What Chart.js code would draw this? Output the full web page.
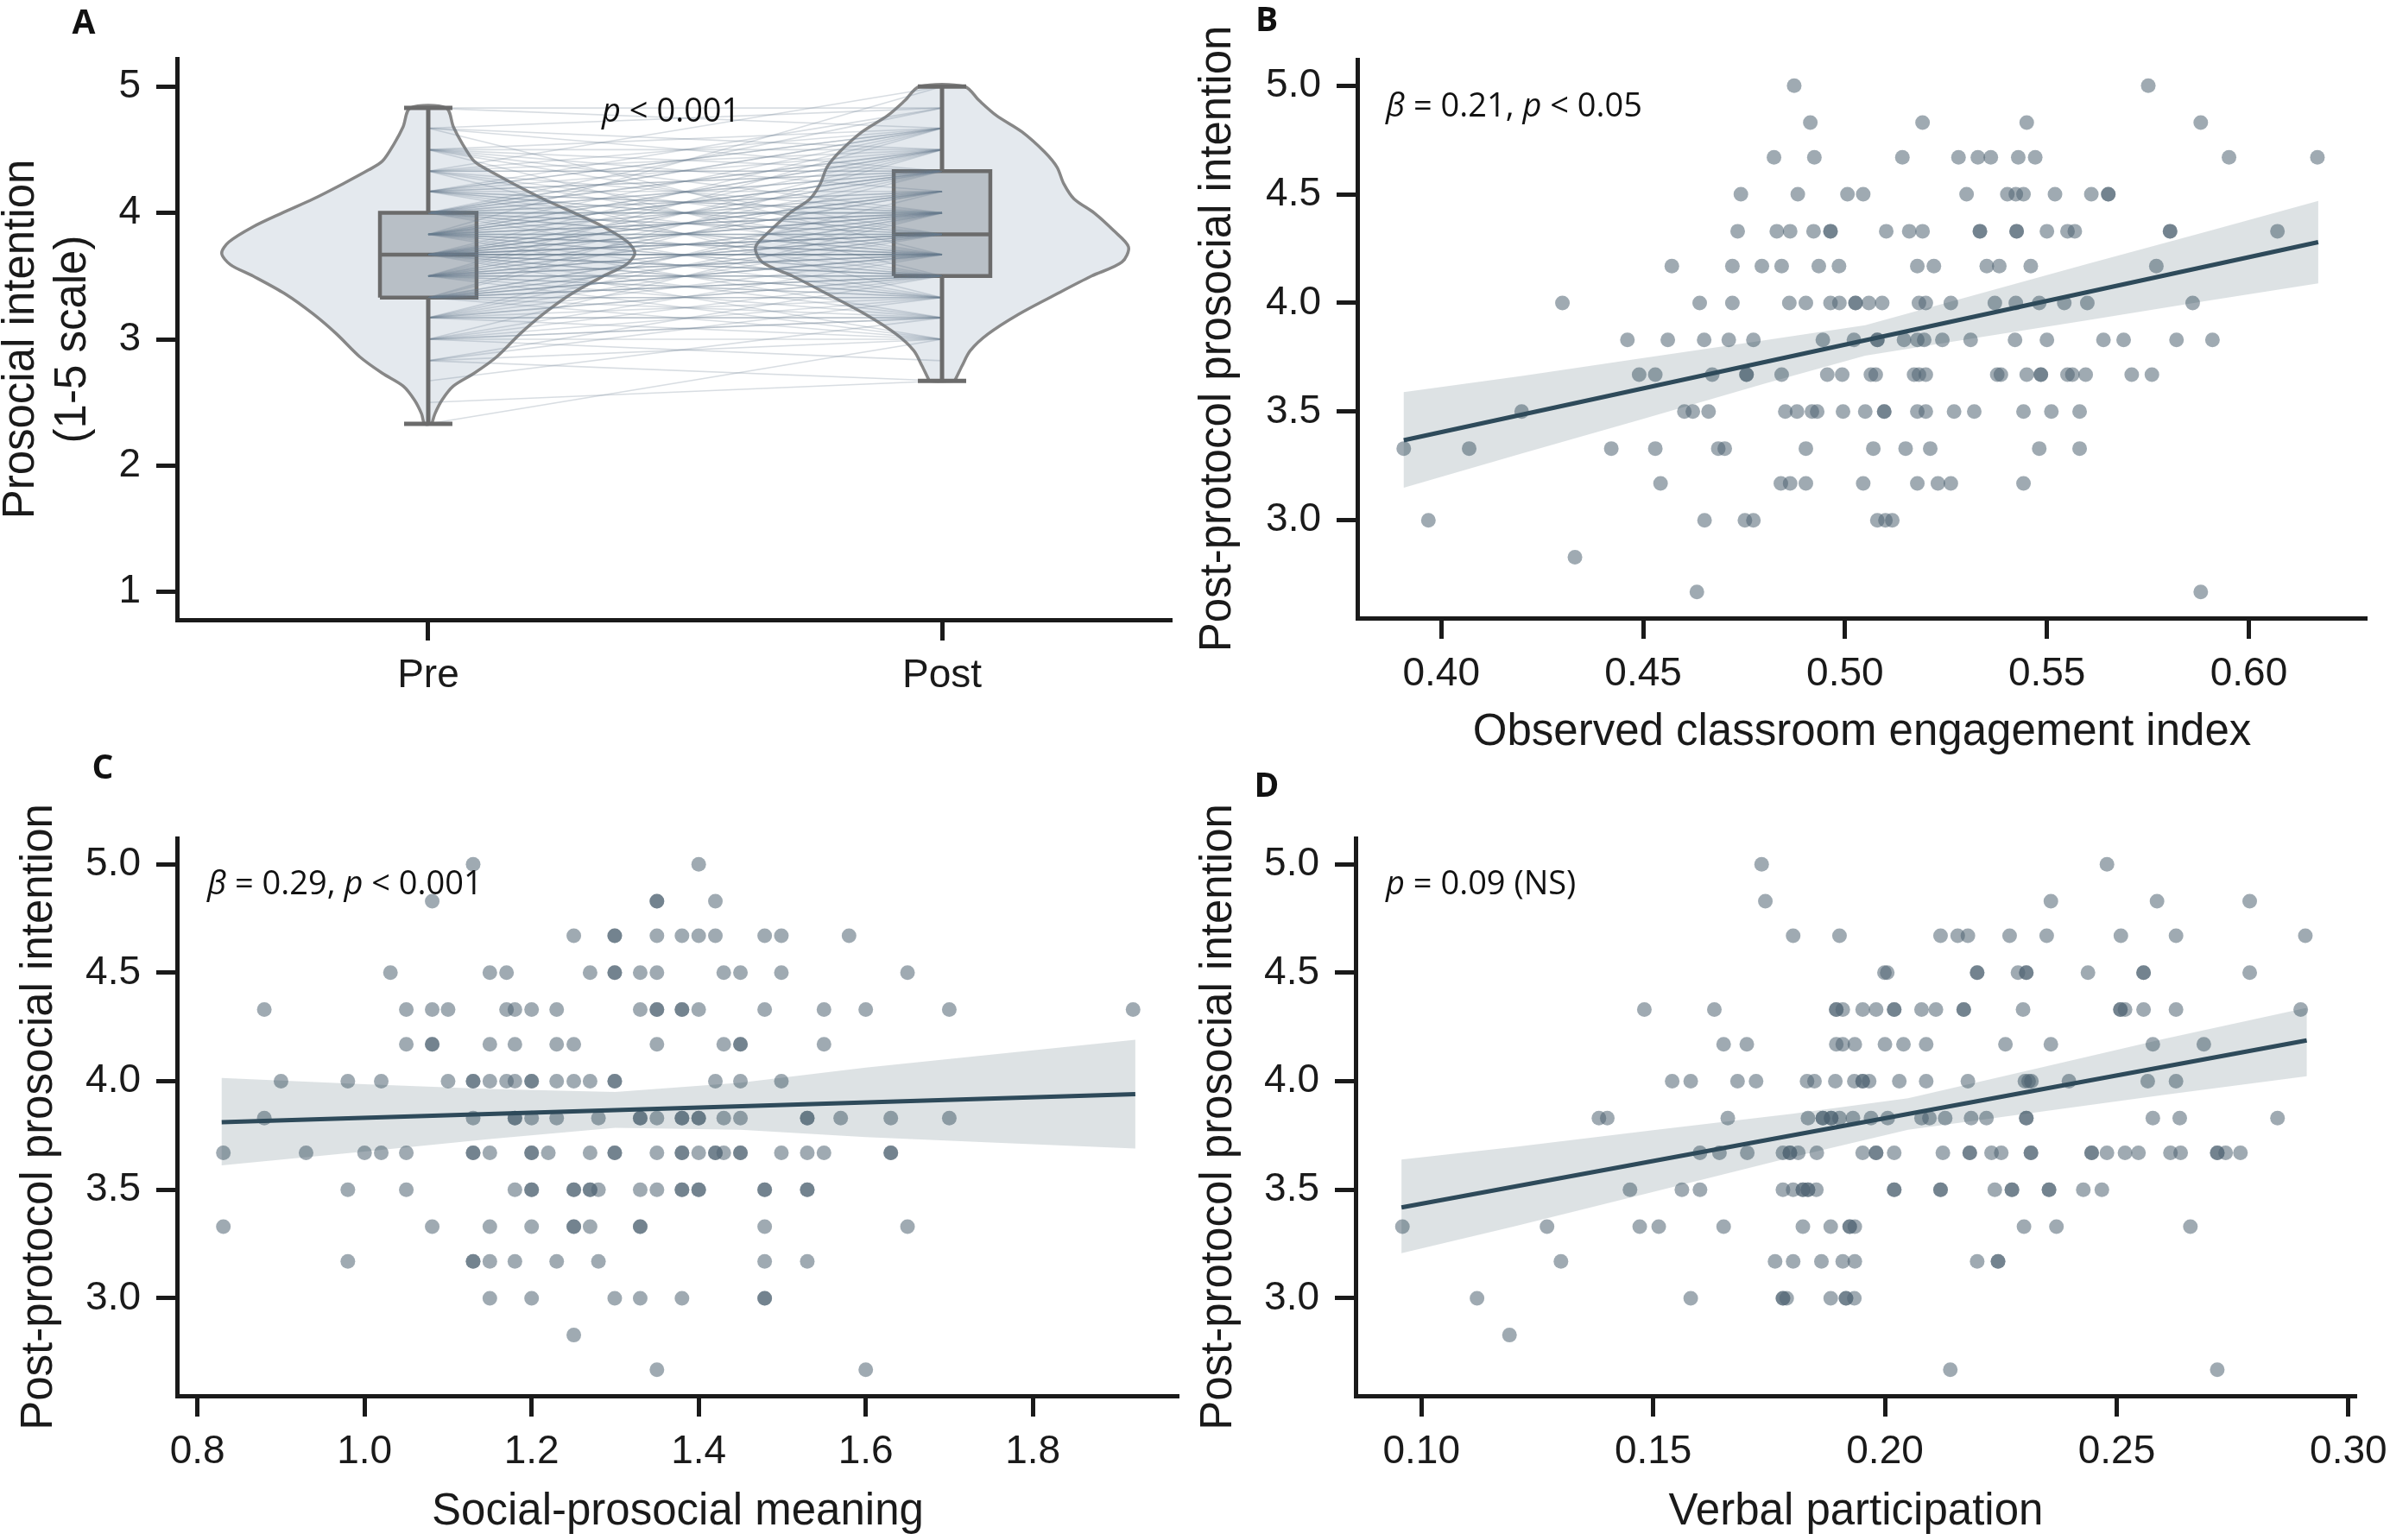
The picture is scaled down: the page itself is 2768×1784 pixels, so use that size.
<!DOCTYPE html>
<html>
<head>
<meta charset="utf-8">
<script src="https://cdn.jsdelivr.net/npm/chart.js@4.4.1/dist/chart.umd.min.js"></script>
<style>
html, body { margin: 0; padding: 0; background: #ffffff; width: 2768px; height: 1784px; overflow: hidden; }
canvas { position: absolute; }
</style>
</head>
<body>
<canvas id="cA" width="1384" height="892" style="left:0px;top:0px;width:1384px;height:892px"></canvas>
<canvas id="cB" width="1384" height="892" style="left:1384px;top:0px;width:1384px;height:892px"></canvas>
<canvas id="cC" width="1384" height="934" style="left:0px;top:850px;width:1384px;height:934px"></canvas>
<canvas id="cD" width="1384" height="934" style="left:1384px;top:850px;width:1384px;height:934px"></canvas>
<script>
// ================= DATA =================
// ---- Panel A: pre/post prosocial intention ----
const conditionLabels = ['Pre', 'Post'];
const prosocialTicks = [1, 2, 3, 4, 5];
const preLevels = [2.33, 2.5, 2.67, 2.83, 3.0, 3.17, 3.33, 3.5, 3.67, 3.83, 4.0, 4.17, 4.33, 4.5, 4.67, 4.83];
const postByPreLevel = [
  [3.0],
  [2.67],
  [3.17],
  [2.67, 3.33, 3.5, 3.0],
  [2.83, 3.0, 3.17, 3.33, 3.5, 3.17, 3.67, 4.0],
  [3.0, 3.17, 3.17, 3.33, 3.5, 3.5, 3.67, 3.83, 4.0, 4.17],
  [3.0, 3.17, 3.33, 3.33, 3.5, 3.5, 3.5, 3.67, 3.67, 3.67, 3.83, 3.83, 4.0, 4.0, 4.33, 4.5],
  [3.0, 3.17, 3.33, 3.33, 3.5, 3.5, 3.5, 3.67, 3.67, 3.67, 3.83, 3.83, 3.83, 4.0, 4.0, 4.17, 4.17, 4.33, 4.5, 4.67],
  [3.0, 3.17, 3.33, 3.33, 3.5, 3.5, 3.5, 3.67, 3.67, 3.67, 3.67, 3.83, 3.83, 3.83, 3.83, 4.0, 4.0, 4.0, 4.17, 4.17, 4.33, 4.33, 4.5, 4.67, 4.17, 3.67],
  [3.17, 3.33, 3.5, 3.5, 3.67, 3.67, 3.67, 3.83, 3.83, 3.83, 4.0, 4.0, 4.0, 4.17, 4.17, 4.33, 4.33, 4.33, 4.5, 4.5, 4.67, 5.0],
  [3.33, 3.5, 3.67, 3.67, 3.83, 3.83, 4.0, 4.0, 4.0, 4.17, 4.17, 4.33, 4.33, 4.5, 4.5, 4.67, 4.67, 4.83],
  [3.5, 3.67, 3.83, 3.83, 4.0, 4.0, 4.17, 4.33, 4.33, 4.5, 4.67, 4.67, 4.83],
  [3.33, 3.67, 3.83, 4.0, 4.33, 4.33, 4.5, 4.67, 5.0],
  [3.5, 3.83, 4.0, 4.17, 4.33, 4.5, 4.67],
  [3.67, 4.33, 4.5, 4.83],
  [4.67, 4.83]
];
// box stats: [min, q1, median, q3, max]
const preBoxStats  = [2.33, 3.33, 3.67, 4.0, 4.83];
const postBoxStats = [2.67, 3.5, 3.83, 4.33, 5.0];
// violin outline: value levels and half-width (x units, Pre=0 / Post=1)
const preViolinY = [2.33, 2.41, 2.52, 2.63, 2.73, 2.86, 3.04, 3.20, 3.36, 3.50, 3.59, 3.68, 3.77, 3.89, 4.00, 4.11, 4.23, 4.34, 4.41, 4.55, 4.68, 4.83];
const preViolinHalf = [0.007, 0.013, 0.027, 0.049, 0.089, 0.133, 0.178, 0.224, 0.279, 0.341, 0.385, 0.402, 0.388, 0.341, 0.284, 0.224, 0.166, 0.116, 0.089, 0.066, 0.049, 0.035];
const postViolinY = [2.67, 2.69, 2.79, 2.91, 3.04, 3.20, 3.36, 3.50, 3.61, 3.73, 3.86, 4.00, 4.11, 4.23, 4.36, 4.48, 4.64, 4.77, 4.89, 5.0];
const postViolinHalf = [0.024, 0.027, 0.039, 0.055, 0.089, 0.150, 0.224, 0.291, 0.350, 0.363, 0.334, 0.296, 0.257, 0.237, 0.224, 0.200, 0.156, 0.106, 0.072, 0.044];

// ---- Scatter panels: shared y ticks ----
const intentionTicks = [3.0, 3.5, 4.0, 4.5, 5.0];

// ---- Panel B: engagement index (x) grouped by post intention (y) ----
const engagementTicks = [0.40, 0.45, 0.50, 0.55, 0.60];
const engagementByIntention = [
  [5.00, [0.4874, 0.5751]],
  [4.83, [0.4914, 0.5192, 0.5450, 0.5881]],
  [4.67, [0.4824, 0.4924, 0.5142, 0.5281, 0.5329, 0.5361, 0.5429, 0.5471, 0.5951, 0.6170]],
  [4.50, [0.4742, 0.4883, 0.5006, 0.5045, 0.5301, 0.5402, 0.5423, 0.5442, 0.5520, 0.5610, 0.5652, 0.5652]],
  [4.33, [0.4734, 0.4831, 0.4864, 0.4922, 0.4964, 0.4964, 0.5102, 0.5159, 0.5192, 0.5334, 0.5334, 0.5425, 0.5425, 0.5500, 0.5551, 0.5569, 0.5805, 0.5805, 0.6071]],
  [4.17, [0.4571, 0.4721, 0.4794, 0.4843, 0.4935, 0.4985, 0.5179, 0.5220, 0.5351, 0.5382, 0.5460, 0.5771]],
  [4.00, [0.4300, 0.4640, 0.4721, 0.4862, 0.4903, 0.4964, 0.4986, 0.5026, 0.5026, 0.5059, 0.5092, 0.5183, 0.5200, 0.5262, 0.5371, 0.5423, 0.5481, 0.5543, 0.5600, 0.5861]],
  [3.83, [0.4461, 0.4561, 0.4651, 0.4712, 0.4773, 0.4945, 0.5022, 0.5080, 0.5080, 0.5146, 0.5179, 0.5196, 0.5241, 0.5311, 0.5421, 0.5500, 0.5640, 0.5690, 0.5821, 0.5910]],
  [3.67, [0.4490, 0.4530, 0.4671, 0.4756, 0.4756, 0.4843, 0.4956, 0.4993, 0.5064, 0.5076, 0.5171, 0.5183, 0.5200, 0.5377, 0.5386, 0.5450, 0.5485, 0.5485, 0.5551, 0.5563, 0.5596, 0.5710, 0.5760]],
  [3.50, [0.4199, 0.4602, 0.4623, 0.4662, 0.4852, 0.4881, 0.4918, 0.4931, 0.4995, 0.5050, 0.5097, 0.5097, 0.5179, 0.5200, 0.5270, 0.5320, 0.5442, 0.5511, 0.5581]],
  [3.33, [0.3907, 0.4069, 0.4421, 0.4530, 0.4686, 0.4702, 0.4903, 0.5070, 0.5150, 0.5211, 0.5481, 0.5581]],
  [3.17, [0.4543, 0.4841, 0.4864, 0.4903, 0.5045, 0.5179, 0.5230, 0.5262, 0.5442]],
  [3.00, [0.3968, 0.4652, 0.4752, 0.4773, 0.5080, 0.5100, 0.5117]],
  [2.83, [0.4331]],
  [2.67, [0.4633, 0.5881]]
];
const fitXB = [0.3907, 0.6172];
const fitYB = [3.368, 4.280];
const bandXB  = [0.3907, 0.42, 0.45, 0.48, 0.505, 0.53, 0.56, 0.59, 0.6172];
const bandLoB = [3.150, 3.308, 3.467, 3.628, 3.758, 3.832, 3.920, 4.011, 4.090];
const bandHiB = [3.590, 3.664, 3.747, 3.828, 3.898, 4.026, 4.180, 4.331, 4.470];

// ---- Panel C: social-prosocial meaning ----
const meaningTicks = [0.8, 1.0, 1.2, 1.4, 1.6, 1.8];
const meaningByIntention = [
  [5.00, [1.130, 1.400]],
  [4.83, [1.081, 1.350, 1.350, 1.420]],
  [4.67, [1.2505, 1.2995, 1.2995, 1.350, 1.380, 1.400, 1.420, 1.479, 1.499, 1.580]],
  [4.50, [1.031, 1.150, 1.170, 1.270, 1.2995, 1.2995, 1.330, 1.350, 1.430, 1.450, 1.499, 1.650]],
  [4.33, [0.880, 1.050, 1.081, 1.100, 1.170, 1.180, 1.200, 1.230, 1.330, 1.350, 1.350, 1.380, 1.380, 1.400, 1.479, 1.550, 1.600, 1.700, 1.920]],
  [4.17, [1.050, 1.081, 1.081, 1.150, 1.180, 1.230, 1.2505, 1.350, 1.430, 1.450, 1.450, 1.550]],
  [4.00, [0.900, 0.980, 1.020, 1.100, 1.130, 1.130, 1.150, 1.170, 1.180, 1.200, 1.200, 1.230, 1.2505, 1.270, 1.2995, 1.2995, 1.420, 1.450, 1.499]],
  [3.83, [0.880, 1.130, 1.180, 1.180, 1.200, 1.230, 1.280, 1.330, 1.330, 1.350, 1.380, 1.380, 1.400, 1.400, 1.430, 1.450, 1.530, 1.530, 1.570, 1.630, 1.700]],
  [3.67, [0.831, 0.930, 1.000, 1.020, 1.050, 1.130, 1.130, 1.150, 1.200, 1.200, 1.220, 1.270, 1.2995, 1.2995, 1.350, 1.380, 1.380, 1.400, 1.420, 1.420, 1.430, 1.450, 1.450, 1.499, 1.530, 1.550, 1.630, 1.630]],
  [3.50, [0.980, 1.050, 1.180, 1.200, 1.200, 1.2505, 1.2505, 1.270, 1.270, 1.280, 1.330, 1.350, 1.380, 1.380, 1.400, 1.400, 1.479, 1.479, 1.530, 1.530]],
  [3.33, [0.831, 1.081, 1.150, 1.200, 1.2505, 1.2505, 1.270, 1.330, 1.330, 1.479, 1.650]],
  [3.17, [0.980, 1.130, 1.130, 1.150, 1.180, 1.230, 1.280, 1.479, 1.530]],
  [3.00, [1.150, 1.200, 1.2995, 1.330, 1.380, 1.479, 1.479]],
  [2.83, [1.2505]],
  [2.67, [1.350, 1.600]]
];
const fitXC = [0.829, 1.9227];
const fitYC = [3.811, 3.940];
const bandXC  = [0.829, 1.0, 1.15, 1.3, 1.45, 1.6, 1.75, 1.9227];
const bandLoC = [3.612, 3.676, 3.734, 3.785, 3.776, 3.743, 3.718, 3.690];
const bandHiC = [4.015, 3.986, 3.964, 3.950, 3.993, 4.063, 4.122, 4.191];

// ---- Panel D: verbal participation ----
const verbalTicks = [0.10, 0.15, 0.20, 0.25, 0.30];
const verbalByIntention = [
  [5.00, [0.1734, 0.2479]],
  [4.83, [0.1742, 0.2358, 0.2587, 0.2787]],
  [4.67, [0.1802, 0.1902, 0.2120, 0.2157, 0.2179, 0.2269, 0.2349, 0.2509, 0.2628, 0.2907]],
  [4.50, [0.1999, 0.2005, 0.2199, 0.2199, 0.2287, 0.2305, 0.2305, 0.2438, 0.2558, 0.2558, 0.2787]],
  [4.33, [0.1481, 0.1632, 0.1895, 0.1895, 0.1909, 0.1952, 0.1981, 0.2020, 0.2020, 0.2079, 0.2110, 0.2170, 0.2170, 0.2298, 0.2508, 0.2508, 0.2518, 0.2558, 0.2628, 0.2897]],
  [4.17, [0.1652, 0.1702, 0.1895, 0.1909, 0.1935, 0.2000, 0.2040, 0.2089, 0.2260, 0.2358, 0.2578, 0.2688]],
  [4.00, [0.1541, 0.1581, 0.1682, 0.1722, 0.1832, 0.1848, 0.1893, 0.1934, 0.1952, 0.1952, 0.1966, 0.2031, 0.2089, 0.2179, 0.2302, 0.2310, 0.2316, 0.2397, 0.2567, 0.2628]],
  [3.83, [0.1383, 0.1401, 0.1661, 0.1834, 0.1866, 0.1866, 0.1884, 0.1884, 0.1902, 0.1931, 0.1970, 0.2006, 0.2079, 0.2096, 0.2130, 0.2186, 0.2219, 0.2305, 0.2305, 0.2578, 0.2636, 0.2847]],
  [3.67, [0.1601, 0.1643, 0.1703, 0.1780, 0.1795, 0.1795, 0.1813, 0.1853, 0.1952, 0.1981, 0.1981, 0.2020, 0.2125, 0.2183, 0.2183, 0.2230, 0.2251, 0.2315, 0.2315, 0.2446, 0.2446, 0.2479, 0.2518, 0.2547, 0.2616, 0.2638, 0.2717, 0.2717, 0.2735, 0.2767]],
  [3.50, [0.1450, 0.1562, 0.1601, 0.1780, 0.1802, 0.1823, 0.1823, 0.1834, 0.1834, 0.1852, 0.2020, 0.2020, 0.2120, 0.2120, 0.2237, 0.2274, 0.2274, 0.2354, 0.2354, 0.2428, 0.2468]],
  [3.33, [0.0959, 0.1271, 0.1471, 0.1512, 0.1652, 0.1823, 0.1883, 0.1924, 0.1924, 0.1935, 0.2300, 0.2370, 0.2659]],
  [3.17, [0.1301, 0.1763, 0.1802, 0.1863, 0.1909, 0.1935, 0.2199, 0.2244, 0.2244]],
  [3.00, [0.1120, 0.1581, 0.1780, 0.1780, 0.1788, 0.1883, 0.1916, 0.1916, 0.1934]],
  [2.83, [0.1190]],
  [2.67, [0.2141, 0.2717]]
];
const fitXD = [0.0957, 0.291];
const fitYD = [3.418, 4.188];
const bandXD  = [0.0957, 0.12, 0.15, 0.18, 0.205, 0.23, 0.26, 0.291];
const bandLoD = [3.207, 3.331, 3.490, 3.650, 3.776, 3.849, 3.936, 4.023];
const bandHiD = [3.639, 3.697, 3.774, 3.850, 3.922, 4.045, 4.194, 4.338];

// ================= STYLE =================
const AXIS = '#1a1a1a';
const TICK_FONT = {family: "'Liberation Sans', Arial, sans-serif", size: 46};
const TITLE_FONT = {family: "'Liberation Sans', Arial, sans-serif", size: 51, lineHeight: 1.2};
const ANNOT_FAMILY = "'Open Sans', 'DejaVu Sans', sans-serif";
const DOT = 'rgba(80,100,115,0.55)';
const FIT = '#2e4a5a';
const BAND = 'rgba(46,74,90,0.16)';

const textPlugin = {
  id: 'panelText',
  afterDraw(chart, args, opts) {
    const ctx = chart.ctx, ca = chart.chartArea;
    ctx.save();
    ctx.fillStyle = '#111111';
    ctx.textBaseline = 'middle';
    ctx.textAlign = 'center';
    ctx.font = 'bold 39px ' + ANNOT_FAMILY;
    ctx.fillText(opts.letter, opts.letterX, opts.letterY);
    ctx.textAlign = 'left';
    let x = ca.left + opts.dx;
    const y = ca.top + opts.dy;
    for (const seg of opts.segments) {
      ctx.font = (seg.italic ? 'italic ' : '') + '38px ' + ANNOT_FAMILY;
      ctx.fillText(seg.text, x, y);
      x += ctx.measureText(seg.text).width;
    }
    ctx.restore();
  }
};

function axis(cfg) {
  return {
    type: 'linear',
    min: cfg.min, max: cfg.max,
    afterBuildTicks: s => { s.ticks = cfg.ticks.map(v => ({value: v})); },
    afterFit: s => {
      if (cfg.horizontal) s.height = cfg.size; else s.width = cfg.size;
      s.paddingLeft = 0; s.paddingRight = 0; s.paddingTop = 0; s.paddingBottom = 0;
    },
    grid: {display: true, drawOnChartArea: false, drawTicks: true, tickLength: 24, tickWidth: 5, tickColor: AXIS},
    border: {display: true, width: 5, color: AXIS},
    ticks: {font: TICK_FONT, color: AXIS, padding: cfg.horizontal ? 14 : 18, maxRotation: 0, minRotation: 0, autoSkip: false, callback: cfg.fmt},
    title: cfg.title ? {display: true, text: cfg.title, color: AXIS,
      font: Object.assign({}, TITLE_FONT, cfg.lineHeight ? {lineHeight: cfg.lineHeight} : {}),
      padding: cfg.titlePad} : {display: false}
  };
}

function baseOptions(padding, scales, textOpts) {
  return {
    responsive: false, maintainAspectRatio: false, animation: false, devicePixelRatio: 1,
    events: [],
    layout: {padding},
    plugins: {legend: {display: false}, tooltip: {enabled: false}, panelText: textOpts},
    scales
  };
}

function lineDs(points, color, width, order, extra) {
  return Object.assign({data: points, showLine: true, borderColor: color, borderWidth: width,
    pointRadius: 0, pointHoverRadius: 0, fill: false, tension: 0, order}, extra || {});
}

// ================= PANEL A =================
function violinPath(center, ys, half) {
  const right = ys.map((y, i) => ({x: center + half[i], y}));
  const left = ys.map((y, i) => ({x: center - half[i], y})).reverse();
  const pts = right.concat(left);
  pts.push(pts[0]);
  return pts;
}
function boxDatasets(center, st) {
  const bw = 0.094, cw = 0.047, edge = '#6b6b6b';
  const [mn, q1, md, q3, mx] = st;
  return [
    lineDs([{x: center - bw, y: q1}, {x: center + bw, y: q1}, {x: center + bw, y: q3}, {x: center - bw, y: q3}, {x: center - bw, y: q1}],
      edge, 4.5, 8, {fill: 'shape', backgroundColor: '#b8bfc6'}),
    lineDs([{x: center - bw, y: md}, {x: center + bw, y: md}], edge, 4.5, 7),
    lineDs([{x: center, y: q3}, {x: center, y: mx}], edge, 5, 4),
    lineDs([{x: center, y: mn}, {x: center, y: q1}], edge, 5, 4),
    lineDs([{x: center - cw, y: mx}, {x: center + cw, y: mx}], edge, 5, 4),
    lineDs([{x: center - cw, y: mn}, {x: center + cw, y: mn}], edge, 5, 4)
  ];
}
const dsA = [];
dsA.push(lineDs(violinPath(0, preViolinY, preViolinHalf), '#878787', 3.5, 10, {fill: 'shape', backgroundColor: '#e4e9ee', tension: 0.3}));
dsA.push(lineDs(violinPath(1, postViolinY, postViolinHalf), '#878787', 3.5, 10, {fill: 'shape', backgroundColor: '#e4e9ee', tension: 0.3}));
boxDatasets(0, preBoxStats).forEach(d => dsA.push(d));
boxDatasets(1, postBoxStats).forEach(d => dsA.push(d));
preLevels.forEach((pre, i) => {
  postByPreLevel[i].forEach(post => {
    dsA.push(lineDs([{x: 0, y: pre}, {x: 1, y: post}], 'rgba(105,125,142,0.26)', 1.6, 6));
  });
});

new Chart(document.getElementById('cA'), {
  type: 'scatter',
  data: {datasets: dsA},
  options: baseOptions({left: 0, top: 68, right: 27, bottom: 0}, {
    x: axis({min: -0.489, max: 1.447, ticks: [0, 1], fmt: v => conditionLabels[v], horizontal: true, size: 174}),
    y: axis({min: 0.78, max: 5.22, ticks: prosocialTicks, fmt: v => String(v), size: 205,
      title: ['Prosocial intention', '(1-5 scale)'], lineHeight: 1.18, titlePad: {top: -5, bottom: 0}})
  }, {letter: 'A', letterX: 97, letterY: 28, dx: 492, dy: 62,
      segments: [{text: 'p', italic: true}, {text: ' < 0.001'}]}),
  plugins: [textPlugin]
});

// ================= SCATTER PANELS =================
function scatterDatasets(rows, fitX, fitY, bandX, bandLo, bandHi) {
  const pts = [];
  rows.forEach(([y, xs]) => xs.forEach(x => pts.push({x, y})));
  const band = bandX.map((x, i) => ({x, y: bandHi[i]}))
    .concat(bandX.map((x, i) => ({x, y: bandLo[i]})).reverse());
  band.push(band[0]);
  return [
    {data: pts, showLine: false, pointRadius: 8.5, pointHoverRadius: 8.5, pointBackgroundColor: DOT, pointBorderWidth: 0, order: 3},
    lineDs(band, 'rgba(0,0,0,0)', 0, 2, {fill: 'shape', backgroundColor: BAND, tension: 0}),
    lineDs(fitX.map((x, i) => ({x, y: fitY[i]})), FIT, 5, 1)
  ];
}

new Chart(document.getElementById('cB'), {
  type: 'scatter',
  data: {datasets: scatterDatasets(engagementByIntention, fitXB, fitYB, bandXB, bandLoB, bandHiB)},
  options: baseOptions({left: 0, top: 69, right: 27, bottom: 0}, {
    x: axis({min: 0.3792, max: 0.6292, ticks: engagementTicks, fmt: v => v.toFixed(2), horizontal: true, size: 176,
      title: 'Observed classroom engagement index', titlePad: {top: 0, bottom: 12}}),
    y: axis({min: 2.55, max: 5.12, ticks: intentionTicks, fmt: v => v.toFixed(1), size: 188,
      title: 'Post-protocol prosocial intention', titlePad: {top: -4, bottom: 0}})
  }, {letter: 'B', letterX: 83, letterY: 25, dx: 33, dy: 55,
      segments: [{text: 'β', italic: true}, {text: ' = 0.21, '}, {text: 'p', italic: true}, {text: ' < 0.05'}]}),
  plugins: [textPlugin]
});

new Chart(document.getElementById('cC'), {
  type: 'scatter',
  data: {datasets: scatterDatasets(meaningByIntention, fitXC, fitYC, bandXC, bandLoC, bandHiC)},
  options: baseOptions({left: 0, top: 121, right: 19, bottom: 0}, {
    x: axis({min: 0.7755, max: 1.9745, ticks: meaningTicks, fmt: v => v.toFixed(1), horizontal: true, size: 167,
      title: 'Social-prosocial meaning', titlePad: {top: 0, bottom: 1}}),
    y: axis({min: 2.55, max: 5.12, ticks: intentionTicks, fmt: v => v.toFixed(1), size: 205,
      title: 'Post-protocol prosocial intention', titlePad: {top: 15, bottom: 0}})
  }, {letter: 'C', letterX: 119, letterY: 41, dx: 35, dy: 54,
      segments: [{text: 'β', italic: true}, {text: ' = 0.29, '}, {text: 'p', italic: true}, {text: ' < 0.001'}]}),
  plugins: [textPlugin]
});

new Chart(document.getElementById('cD'), {
  type: 'scatter',
  data: {datasets: scatterDatasets(verbalByIntention, fitXD, fitYD, bandXD, bandLoD, bandHiD)},
  options: baseOptions({left: 0, top: 121, right: 39, bottom: 0}, {
    x: axis({min: 0.0858, max: 0.3017, ticks: verbalTicks, fmt: v => v.toFixed(2), horizontal: true, size: 167,
      title: 'Verbal participation', titlePad: {top: 0, bottom: 1}}),
    y: axis({min: 2.55, max: 5.12, ticks: intentionTicks, fmt: v => v.toFixed(1), size: 186,
      title: 'Post-protocol prosocial intention', titlePad: {top: -3, bottom: 0}})
  }, {letter: 'D', letterX: 83, letterY: 62, dx: 35, dy: 54,
      segments: [{text: 'p', italic: true}, {text: ' = 0.09 (NS)'}]}),
  plugins: [textPlugin]
});
</script>
</body>
</html>
